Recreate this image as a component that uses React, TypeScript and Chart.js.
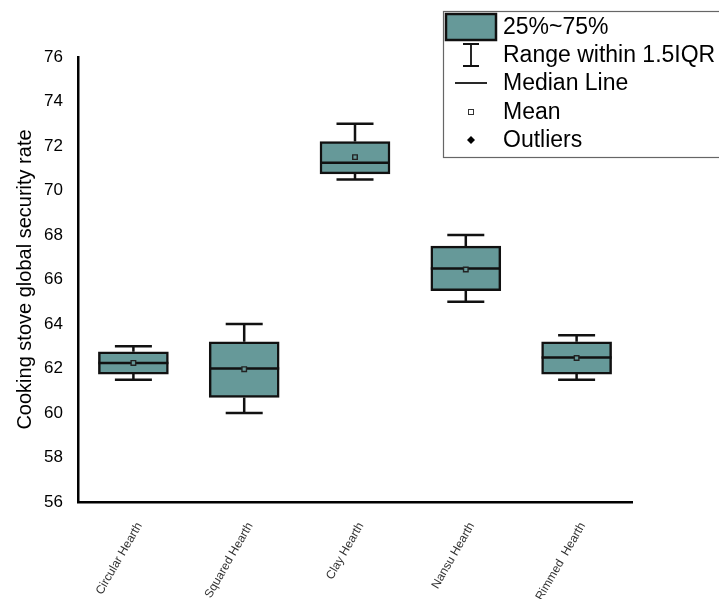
import React, { useEffect, useRef } from "react";
import { Chart, registerables } from "chart.js";

Chart.register(...registerables);

const categories = ["Circular Hearth", "Squared Hearth", "Clay Hearth", "Nansu Hearth", "Rimmed  Hearth"];
const whiskerLow = [61.5, 60.0, 70.5, 65.0, 61.5];
const q1 = [61.75, 60.7, 70.75, 65.5, 61.75];
const median = [62.25, 62.0, 71.25, 66.5, 62.5];
const q3 = [62.75, 63.2, 72.2, 67.5, 63.2];
const whiskerHigh = [63.0, 64.0, 73.0, 68.0, 63.5];
const means = [62.25, 61.97, 71.5, 66.45, 62.47];
const yTicks = [56, 58, 60, 62, 64, 66, 68, 70, 72, 74, 76];
const legendLabels = ["25%~75%", "Range within 1.5IQR", "Median Line", "Mean", "Outliers"];

const FILL = "#669999";
const FONT = "'Liberation Sans', Arial, sans-serif";

const boxPlugin = {
  id: "boxParts",
  beforeDatasetsDraw(chart: any) {
    const ctx = chart.ctx;
    const xs = chart.scales.x;
    const ys = chart.scales.y;
    const capHalf = 18.5;
    ctx.save();
    ctx.strokeStyle = "#111";
    ctx.lineWidth = 2.5;
    categories.forEach((_, i) => {
      const x = xs.getPixelForValue(i);
      const yLo = ys.getPixelForValue(whiskerLow[i]);
      const yHi = ys.getPixelForValue(whiskerHigh[i]);
      const yQ1 = ys.getPixelForValue(q1[i]);
      const yQ3 = ys.getPixelForValue(q3[i]);
      ctx.beginPath();
      ctx.moveTo(x, yQ3);
      ctx.lineTo(x, yHi);
      ctx.moveTo(x - capHalf, yHi);
      ctx.lineTo(x + capHalf, yHi);
      ctx.moveTo(x, yQ1);
      ctx.lineTo(x, yLo);
      ctx.moveTo(x - capHalf, yLo);
      ctx.lineTo(x + capHalf, yLo);
      ctx.stroke();
    });
    ctx.restore();
  },
  afterDatasetDraw(chart: any, args: any) {
    if (args.index !== 0) return;
    const ctx = chart.ctx;
    const ys = chart.scales.y;
    const meta = chart.getDatasetMeta(0);
    ctx.save();
    ctx.strokeStyle = "#111";
    ctx.lineWidth = 2.5;
    meta.data.forEach((bar: any, i: number) => {
      const half = bar.width / 2;
      const y = ys.getPixelForValue(median[i]);
      ctx.beginPath();
      ctx.moveTo(bar.x - half, y);
      ctx.lineTo(bar.x + half, y);
      ctx.stroke();
    });
    ctx.restore();
  },
  afterDraw(chart: any) {
    const ctx = chart.ctx;
    ctx.save();
    // legend frame
    ctx.strokeStyle = "#666";
    ctx.lineWidth = 1.2;
    ctx.strokeRect(443.5, 11.5, 290, 146);
    const rowY = [27, 55, 83, 112, 140];
    const iconX = 471;
    // swatch
    ctx.fillStyle = FILL;
    ctx.fillRect(446, 14, 50, 26);
    ctx.strokeStyle = "#111";
    ctx.lineWidth = 2.5;
    ctx.strokeRect(446, 14, 50, 26);
    // I-beam
    ctx.lineWidth = 1.8;
    ctx.beginPath();
    ctx.moveTo(iconX, 44);
    ctx.lineTo(iconX, 66);
    ctx.moveTo(iconX - 8, 44);
    ctx.lineTo(iconX + 8, 44);
    ctx.moveTo(iconX - 8, 66);
    ctx.lineTo(iconX + 8, 66);
    ctx.stroke();
    // median line
    ctx.beginPath();
    ctx.moveTo(455, rowY[2]);
    ctx.lineTo(487, rowY[2]);
    ctx.stroke();
    // mean square
    ctx.lineWidth = 1;
    ctx.fillStyle = "#fff";
    ctx.fillRect(iconX - 2.5, rowY[3] - 2.5, 5, 5);
    ctx.strokeStyle = "#333";
    ctx.strokeRect(iconX - 2.5, rowY[3] - 2.5, 5, 5);
    // outlier diamond
    ctx.fillStyle = "#000";
    ctx.beginPath();
    ctx.moveTo(iconX, rowY[4] - 4);
    ctx.lineTo(iconX + 4, rowY[4]);
    ctx.lineTo(iconX, rowY[4] + 4);
    ctx.lineTo(iconX - 4, rowY[4]);
    ctx.closePath();
    ctx.fill();
    // texts
    ctx.fillStyle = "#000";
    ctx.font = `23px ${FONT}`;
    ctx.textAlign = "left";
    ctx.textBaseline = "middle";
    legendLabels.forEach((t, i) => ctx.fillText(t, 503, rowY[i] + 1));
    ctx.restore();
  },
};

export default function App() {
  const ref = useRef<HTMLCanvasElement>(null);
  useEffect(() => {
    if (!ref.current) return;
    const chart = new Chart(ref.current, {
      type: "bar",
      data: {
        labels: categories,
        datasets: [
          {
            type: "bar",
            label: "25%~75%",
            data: q1.map((v, i) => [v, q3[i]]) as any,
            backgroundColor: FILL,
            borderColor: "#111",
            borderWidth: 2.5,
            borderSkipped: false,
            barThickness: 70,
            order: 1,
          } as any,
          {
            type: "line",
            label: "Mean",
            data: means,
            showLine: false,
            pointStyle: "rect",
            pointRadius: 3.2,
            borderWidth: 1.4,
            borderColor: "#222",
            backgroundColor: FILL,
            order: 0,
          } as any,
        ],
      },
      options: {
        responsive: false,
        animation: false,
        layout: { padding: { left: 0, right: 87, top: 57, bottom: 0 } },
        plugins: { legend: { display: false }, tooltip: { enabled: false } },
        scales: {
          x: {
            grid: { display: false, drawTicks: false },
            border: { display: true, color: "#000", width: 2.5 },
            ticks: {
              color: "#333",
              font: { family: FONT, size: 12 },
              minRotation: 60,
              maxRotation: 60,
              padding: 18,
              labelOffset: 6,
            },
            afterFit: (s: any) => {
              s.height = 97;
            },
          },
          y: {
            min: 56,
            max: 76,
            afterBuildTicks: (s: any) => {
              s.ticks = yTicks.map((v) => ({ value: v }));
            },
            grid: { display: false, drawTicks: false },
            border: { display: true, color: "#000", width: 2.5 },
            ticks: {
              color: "#000",
              font: { family: FONT, size: 17 },
              padding: 15,
            },
            title: {
              display: true,
              text: "Cooking stove global security rate",
              color: "#000",
              font: { family: FONT, size: 20 },
              padding: { top: 13, bottom: 0 },
            },
            afterFit: (s: any) => {
              s.width = 78;
            },
          },
        },
      },
      plugins: [boxPlugin],
    });
    return () => chart.destroy();
  }, []);
  return (
    <div style={{ position: "fixed", left: 0, top: 0, width: 719, height: 599, background: "#fff" }}>
      <canvas ref={ref} width={719} height={599} style={{ width: 719, height: 599 }} />
    </div>
  );
}
